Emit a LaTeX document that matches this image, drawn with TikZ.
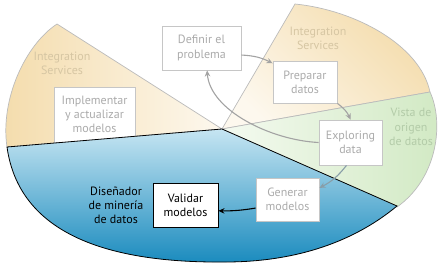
\documentclass[tikz,border=0pt]{standalone}
\usepackage{fontspec}
\setmainfont{PT Sans}
\usetikzlibrary{arrows.meta}
\definecolor{tanout}{HTML}{F4DCAC}
\definecolor{tanin}{HTML}{FDF8EE}
\definecolor{greenout}{HTML}{D1E9C3}
\definecolor{greenin}{HTML}{F4FAF0}
\definecolor{bluetop}{HTML}{C6E5F2}
\definecolor{bluebot}{HTML}{1A8BBE}
\definecolor{edgegray}{HTML}{BBBBBB}
\definecolor{boxgray}{HTML}{C6C6C6}
\definecolor{txtgray}{HTML}{ABABAB}
\definecolor{tantxt}{HTML}{D6C6A3}
\definecolor{greentxt}{HTML}{B3CBA8}
\definecolor{arrgray}{HTML}{A3A3A3}
\begin{document}
\begin{tikzpicture}[
  x=1pt, y=-1pt,
  sector/.style={draw=edgegray, line width=0.7pt},
  box/.style={draw=boxgray, line width=0.9pt, fill=white, align=center, inner sep=0pt,
    text=txtgray, font=\fontsize{12}{14.2}\selectfont},
  lbl/.style={align=center, font=\fontsize{12}{14.2}\selectfont},
  flow/.style={draw=arrgray, line width=1.1pt, -{Stealth[length=6pt,width=5.5pt]}}
]
  \useasboundingbox (0,0) rectangle (441,271);
  \coordinate (o) at (222,129);

  % sectors behind the blue one
  \draw[sector, left color=tanout, right color=tanin]
    (o) -- (57,24) .. controls (25,45) and (0,100) .. (7,147) -- cycle;
  \draw[sector, bottom color=tanin, top color=tanout, shading angle=-45]
    (o) -- (295,4) .. controls (355,10) and (420,45) .. (430,92) -- cycle;
  \draw[sector, left color=greenin, right color=greenout]
    (o) -- (430,92) .. controls (444,122) and (438,178) .. (397,207) -- cycle;

  \node[lbl, text=tantxt] (isleft) at (62,63) {Integration\\Services};
  \node[lbl, text=tantxt] (isright) at (318,38) {Integration\\Services};
  \node[lbl, text=greentxt] (vista) at (411,127) {Vista de\\origen\\de datos};

  \node[box, minimum width=81pt, minimum height=55pt] (impl) at (94.5,114.5)
    {Implementar\\y actualizar\\modelos};

  % blue sector
  \draw[line width=0.8pt, top color=bluetop, bottom color=bluebot]
    (o) -- (397,206) .. controls (350,245) and (290,262) .. (225,262)
    .. controls (120,263) and (20,240) .. (7,147) -- cycle;

  \node[lbl] (disen) at (116,205) {Diseñador\\de minería\\de datos};

  \node[box, minimum width=79pt, minimum height=44pt] (defi) at (201.5,48) {Definir el\\problema};
  \node[box, minimum width=64pt, minimum height=42pt] (prep) at (305,82) {Preparar\\datos};
  \node[box, minimum width=63pt, minimum height=45pt] (expl) at (350.5,142.5) {Exploring\\data};
  \node[box, minimum width=63pt, minimum height=43pt] (gene) at (287.5,199.5) {Generar\\modelos};
  \node[box, draw=black, text=black, minimum width=65pt, minimum height=44pt] (vali) at (185.5,205)
    {Validar\\modelos};

  \draw[flow] (defi.-10) to[bend left=12] (prep.150);
  \draw[flow] (prep.south east) to[bend left=15] (expl.north);
  \draw[flow] (expl.west) .. controls (270,140) and (210,110) .. (defi.-76);
  \draw[flow, draw=arrgray!80!bluebot] (expl.-100) to[bend left=12] (gene.20);
  \draw[flow, draw=black] (gene.-165) to[bend left=5] (vali.-10);
\end{tikzpicture}
\end{document}
